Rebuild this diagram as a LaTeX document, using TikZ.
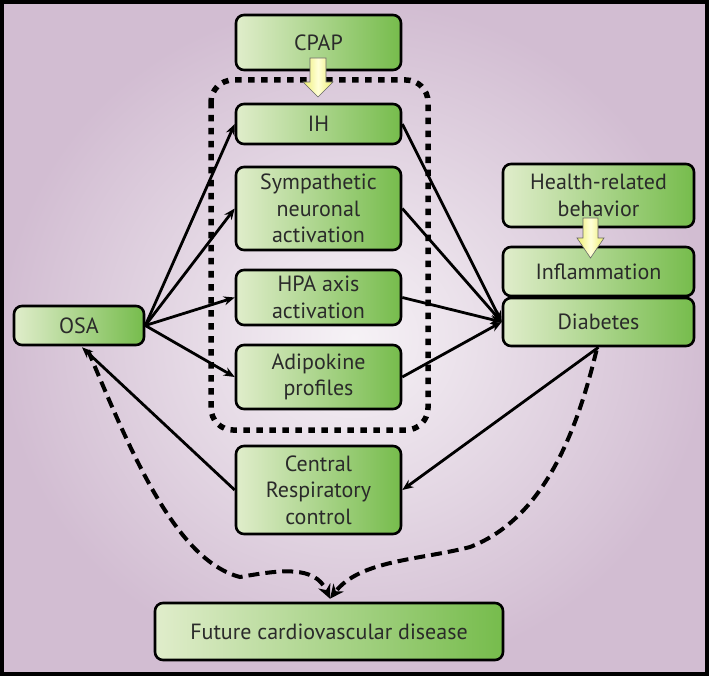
\documentclass[tikz,border=0pt]{standalone}
\usepackage{fontspec}
\setmainfont{PT Sans}
\usetikzlibrary{arrows.meta,calc}
\definecolor{bgin}{HTML}{F6F2F6}
\definecolor{bgout}{HTML}{D2BDD2}
\definecolor{boxL}{HTML}{E0EDCB}
\definecolor{boxR}{HTML}{76BC4C}
\definecolor{textc}{HTML}{2A2A2A}
\definecolor{yelL}{HTML}{FFFFD8}
\definecolor{yelR}{HTML}{EEEE70}
\begin{document}
\begin{tikzpicture}[x=1pt,y=-1pt,
  box/.style={draw=black, line width=2.6pt, rounded corners=8pt, left color=boxL, right color=boxR,
    text=textc, align=center, inner sep=0pt, font=\fontsize{22}{26.5}\selectfont},
  conn/.style={line width=2.8pt, -{Stealth[length=11pt,width=9pt]}},
  dconn/.style={line width=4pt, dash pattern=on 11pt off 6pt, -{Stealth[length=14pt,width=13pt]}},
  yarrow/.style={draw=black!60, line width=0.6pt, left color=yelR, right color=yelR, middle color=yelL}
]
\useasboundingbox (0,0) rectangle (709,676);
\shade[inner color=bgin, outer color=bgout] (0,0) rectangle (709,676);

% dotted group
\draw[line width=5.5pt, dash pattern=on 6.5pt off 6.5pt, rounded corners=22pt] (211,80) rectangle (428,430);

% nodes
\node[box, minimum width=165pt, minimum height=55pt] (cpap) at (318.5,42.5) {CPAP};
\node[box, minimum width=165pt, minimum height=40pt] (ih) at (318.5,124) {IH};
\node[box, minimum width=165pt, minimum height=83pt] (symp) at (318.5,208.5) {Sympathetic\\neuronal\\activation};
\node[box, minimum width=165pt, minimum height=55pt] (hpa) at (318.5,297.5) {HPA axis\\activation};
\node[box, minimum width=165pt, minimum height=64pt] (adip) at (318.5,377) {Adipokine\\profiles};
\node[box, minimum width=165pt, minimum height=88pt] (crc) at (318.5,490) {Central\\Respiratory\\control};
\node[box, minimum width=130pt, minimum height=39pt] (osa) at (79,325.5) {OSA};
\node[box, minimum width=191pt, minimum height=63pt] (health) at (598.5,195.5) {Health-related\\behavior};
\node[box, minimum width=191pt, minimum height=49pt] (infl) at (598.5,271.5) {Inflammation};
\node[box, minimum width=191pt, minimum height=48pt] (diab) at (598.5,322) {Diabetes};
\node[box, minimum width=348pt, minimum height=57pt] (fut) at (329,631.5) {Future cardiovascular disease};

% connectors
\draw[conn] (osa.east) -- (ih.west);
\draw[conn] (osa.east) -- (symp.west);
\draw[conn] (osa.east) -- (hpa.west);
\draw[conn] (osa.east) -- (adip.west);
\draw[conn] (ih.east) -- (diab.west);
\draw[conn] (symp.east) -- (diab.west);
\draw[conn] (hpa.east) -- (diab.west);
\draw[conn] (adip.east) -- (diab.west);
\draw[conn] (diab.south) -- (crc.east);
\coordinate (osaIn) at ($(osa.south)+(3,1)$);
\draw[conn] (crc.west) -- (osaIn);

\coordinate (osaOut) at ($(osa.south)+(9,4)$);
\coordinate (diabOut) at ($(diab.south)+(-2,3)$);
\coordinate (futIn) at ($(fut.north)+(1,-3)$);
\draw[dconn] (osaOut) .. controls (130,450) and (175,560) .. (240,577)
  .. controls (280,570) and (315,565) .. (futIn);
\draw[dconn] (diabOut) .. controls (575,440) and (540,520) .. (470,547)
  .. controls (420,560) and (360,560) .. (futIn);

% yellow block arrows
\path[yarrow] (310,58) -- (326,58) -- (326,82) -- (333,82) -- (318,97) -- (303,82) -- (310,82) -- cycle;
\path[yarrow] (583,218) -- (598,218) -- (598,238) -- (604,238) -- (590.5,258) -- (577,238) -- (583,238) -- cycle;

% frame
\draw[line width=4pt] (2,2) rectangle (707,674);
\end{tikzpicture}
\end{document}
